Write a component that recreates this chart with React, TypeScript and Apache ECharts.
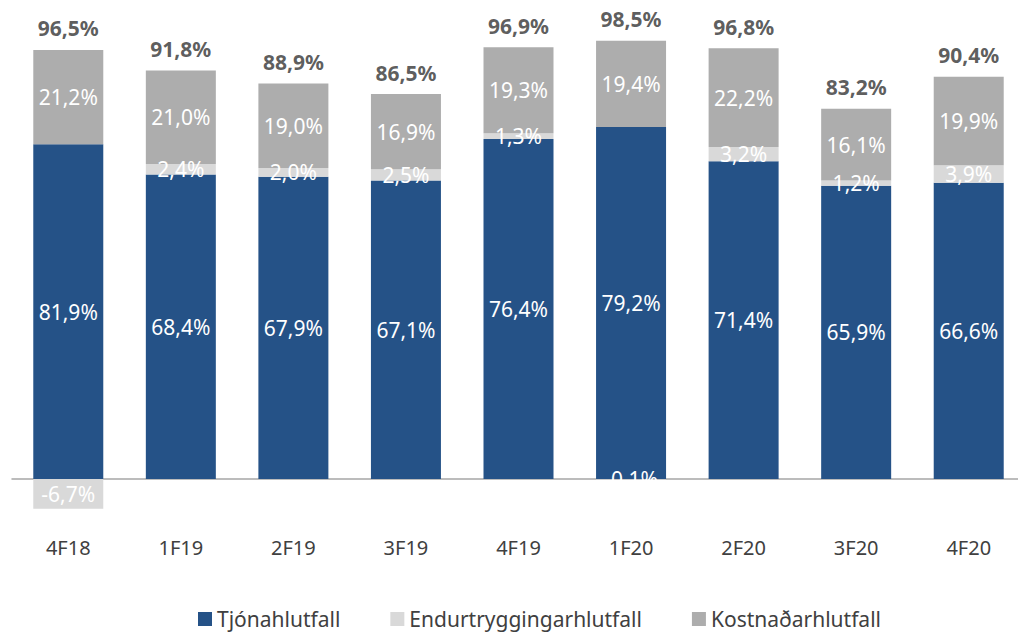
import React, { useEffect, useRef } from "react";
import * as echarts from "echarts";

const categories = ["4F18", "1F19", "2F19", "3F19", "4F19", "1F20", "2F20", "3F20", "4F20"];
const tjon = [81.9, 68.4, 67.9, 67.1, 76.4, 79.2, 71.4, 65.9, 66.6];
const endur = [-6.7, 2.4, 2.0, 2.5, 1.3, -0.1, 3.2, 1.2, 3.9];
const kostn = [21.2, 21.0, 19.0, 16.9, 19.3, 19.4, 22.2, 16.1, 19.9];
const totals = [96.5, 91.8, 88.9, 86.5, 96.9, 98.5, 96.8, 83.2, 90.4];
const seriesNames = ["Tjónahlutfall", "Endurtryggingarhlutfall", "Kostnaðarhlutfall"];

const fmt = (v: number) => v.toFixed(1).replace(".", ",") + "%";

export default function App() {
  const ref = useRef<HTMLDivElement>(null);
  useEffect(() => {
    if (!ref.current) return;
    const chart = echarts.init(ref.current, undefined, { renderer: "svg" });
    // In the original, a negative reinsurance share is drawn below zero and the claims bar is shortened by it
    const blueDrawn = tjon.map((v, i) => Math.round((v + Math.min(endur[i], 0)) * 10) / 10);
    const font = "'Noto Sans', sans-serif";
    const inLabel = (arr: number[]) => ({
      show: true,
      position: "inside" as const,
      color: "#ffffff",
      fontFamily: font,
      fontSize: 21,
      formatter: (p: any) => fmt(arr[p.dataIndex]),
    });
    chart.setOption({
      animation: false,
      grid: { left: 12, top: 34, width: 1013, height: 489.5, containLabel: false },
      legend: {
        left: 193,
        top: 603,
        itemWidth: 14,
        itemHeight: 14,
        itemGap: 50,
        icon: "rect",
        textStyle: { fontFamily: font, fontSize: 21, lineHeight: 22, color: "#404040", padding: [0, 0, 0, 0] },
        data: seriesNames,
      },
      xAxis: {
        type: "category",
        data: categories,
        axisLine: { show: true, onZero: true, lineStyle: { color: "#a6a6a6", width: 1.5 } },
        axisTick: { show: false },
        axisLabel: { margin: 14, fontFamily: font, fontSize: 20, color: "#404040" },
      },
      yAxis: {
        type: "value",
        min: -10,
        max: 100,
        show: false,
        splitLine: { show: false },
      },
      series: [
        {
          name: seriesNames[0],
          type: "bar",
          stack: "a",
          barWidth: 70,
          data: blueDrawn,
          itemStyle: { color: "#255287" },
          label: inLabel(tjon),
        },
        {
          name: seriesNames[1],
          type: "bar",
          stack: "a",
          barWidth: 70,
          data: endur,
          itemStyle: { color: "#d9d9d9" },
          label: inLabel(endur),
        },
        {
          name: seriesNames[2],
          type: "bar",
          stack: "a",
          barWidth: 70,
          data: kostn,
          itemStyle: { color: "#adadad" },
          label: inLabel(kostn),
        },
        {
          name: "total",
          type: "scatter",
          symbolSize: 0,
          data: totals,
          silent: true,
          label: {
            show: true,
            position: "top",
            distance: 11,
            color: "#333333",
            fontWeight: "bold",
            fontFamily: font,
            fontSize: 21,
            formatter: (p: any) => fmt(totals[p.dataIndex]),
          },
        },
      ],
    });
    return () => chart.dispose();
  }, []);
  return (
    <div
      style={{ position: "absolute", left: 0, top: 0, width: 1018, height: 635, overflow: "hidden", background: "#fff" }}
    >
      <div ref={ref} style={{ width: 1030, height: 635 }} />
    </div>
  );
}
